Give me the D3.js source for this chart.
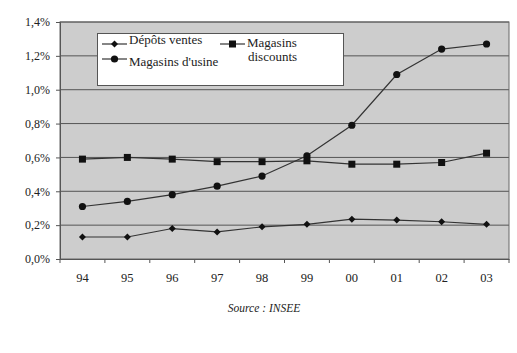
<!DOCTYPE html>
<html>
<head>
<meta charset="utf-8">
<script src="https://cdn.jsdelivr.net/npm/d3@7"></script>
<style>
  body { margin: 0; background: #fff; }
</style>
</head>
<body>
<div id="graph"></div>
<script>
// Data
const years = ['94', '95', '96', '97', '98', '99', '00', '01', '02', '03']
const depotsVentes = [0.13, 0.13, 0.18, 0.16, 0.19, 0.205, 0.235, 0.23, 0.22, 0.205]
const magasinsUsine = [0.31, 0.34, 0.38, 0.43, 0.49, 0.61, 0.79, 1.09, 1.24, 1.27]
const magasinsDiscounts = [0.59, 0.60, 0.59, 0.575, 0.575, 0.58, 0.56, 0.56, 0.57, 0.625]
const yTicks = [0, 0.2, 0.4, 0.6, 0.8, 1.0, 1.2, 1.4]

const total_width = 517
const total_height = 353
const margins = { top: 22, left: 60, right: 8, bottom: 94 }
const width = total_width - margins.left - margins.right
const height = total_height - margins.top - margins.bottom

const svg = d3.select('#graph').append('svg')
  .attr('width', total_width)
  .attr('height', total_height)
  .attr('font-family', 'Liberation Serif')

const g = svg.append('g')
  .attr('transform', `translate(${margins.left}, ${margins.top})`)

const x = d3.scaleBand().domain(years).range([0, width])
const y = d3.scaleLinear().domain([0, 1.4]).range([height, 0])
const cx = d => x(d) + x.bandwidth() / 2

// plot background
g.append('rect')
  .attr('width', width)
  .attr('height', height)
  .attr('fill', '#cdcdcd')

// gridlines
g.selectAll('.grid')
  .data(yTicks.slice(1))
  .enter()
  .append('line')
  .attr('x1', 0)
  .attr('x2', width)
  .attr('y1', d => y(d))
  .attr('y2', d => y(d))
  .attr('stroke', '#555')
  .attr('stroke-width', 1)

g.append('rect')
  .attr('width', width)
  .attr('height', height)
  .attr('fill', 'none')
  .attr('stroke', '#666')

// axes
const fmt = d => d.toFixed(1).replace('.', ',') + '%'
const yAxis = g.append('g')
  .call(d3.axisLeft(y).tickValues(yTicks).tickFormat(fmt).tickSize(4).tickPadding(6))
  .attr('font-family', 'Liberation Serif')
  .attr('font-size', 12)
yAxis.select('.domain').attr('stroke', '#555')
yAxis.selectAll('line').attr('stroke', '#555')
yAxis.selectAll('text').attr('fill', '#222')

const xAxis = g.append('g')
  .attr('transform', `translate(0, ${height})`)
  .call(d3.axisBottom(x).tickSize(0).tickPadding(14))
  .attr('font-family', 'Liberation Serif')
  .attr('font-size', 12.5)
xAxis.select('.domain').attr('stroke', '#555')
xAxis.selectAll('text').attr('fill', '#222')

// tick marks between categories
xAxis.selectAll('.sep')
  .data(years.concat(['end']))
  .enter()
  .append('line')
  .attr('x1', (d, i) => i * x.step())
  .attr('x2', (d, i) => i * x.step())
  .attr('y1', 0)
  .attr('y2', 4)
  .attr('stroke', '#555')

// lines
const series = [
  { name: 'Dépôts ventes', values: depotsVentes, symbol: 'diamond' },
  { name: "Magasins d'usine", values: magasinsUsine, symbol: 'circle' },
  { name: 'Magasins discounts', values: magasinsDiscounts, symbol: 'square' }
]

const line = d3.line()
  .x((d, i) => cx(years[i]))
  .y(d => y(d))

function drawMarker(sel, symbol, px, py) {
  if (symbol === 'circle') {
    sel.append('circle').attr('cx', px).attr('cy', py).attr('r', 3.6).attr('fill', '#111')
  } else if (symbol === 'square') {
    sel.append('rect').attr('x', px - 3.5).attr('y', py - 3.5).attr('width', 7).attr('height', 7).attr('fill', '#111')
  } else {
    sel.append('path')
      .attr('d', `M${px},${py - 3.5}L${px + 3.5},${py}L${px},${py + 3.5}L${px - 3.5},${py}Z`)
      .attr('fill', '#111')
  }
}

series.forEach(s => {
  g.append('path')
    .datum(s.values)
    .attr('fill', 'none')
    .attr('stroke', '#333')
    .attr('stroke-width', 1.2)
    .attr('d', line)
  s.values.forEach((v, i) => drawMarker(g, s.symbol, cx(years[i]), y(v)))
})

// legend
const legend = svg.append('g')
legend.append('rect')
  .attr('x', 97.5).attr('y', 33.5)
  .attr('width', 246).attr('height', 52)
  .attr('fill', '#fff')
  .attr('stroke', '#555')

function legendItem(lx, ly, symbol) {
  legend.append('line')
    .attr('x1', lx).attr('x2', lx + 25)
    .attr('y1', ly).attr('y2', ly)
    .attr('stroke', '#333').attr('stroke-width', 1.2)
  drawMarker(legend, symbol, lx + 12.5, ly)
}
legendItem(102, 44, 'diamond')
legendItem(102, 59, 'circle')
legendItem(220, 44, 'square')

const legendText = [
  { t: 'Dépôts ventes', x: 129, y: 44 },
  { t: "Magasins d'usine", x: 129, y: 66 },
  { t: 'Magasins', x: 247, y: 47 },
  { t: 'discounts', x: 248, y: 61 }
]
legend.selectAll('.lt')
  .data(legendText)
  .enter()
  .append('text')
  .attr('x', d => d.x)
  .attr('y', d => d.y)
  .style('font-family', 'Liberation Serif')
  .style('font-size', '13px')
  .attr('fill', '#222')
  .text(d => d.t)

// source
svg.append('text')
  .attr('x', 264)
  .attr('y', 312)
  .attr('text-anchor', 'middle')
  .style('font-family', 'Liberation Serif')
  .style('font-size', '11.5px')
  .style('font-style', 'italic')
  .attr('fill', '#222')
  .text('Source : INSEE')
</script>
</body>
</html>
